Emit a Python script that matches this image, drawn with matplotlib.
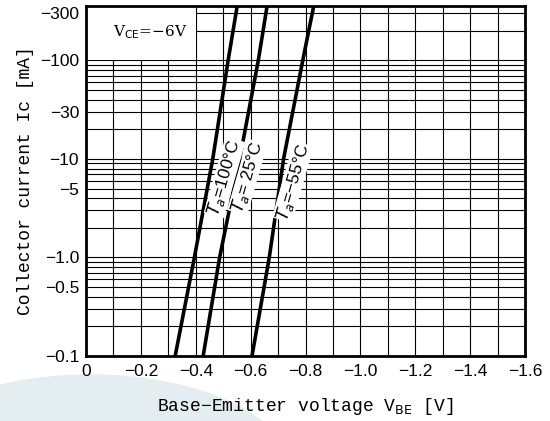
import matplotlib.pyplot as plt
import numpy as np
from matplotlib.patches import Ellipse, Rectangle
from matplotlib.ticker import FixedLocator, LogLocator, NullFormatter

# collector current (positive magnitude, mA) and base-emitter voltage (V)
ic = [0.1, 1, 10, 100, 357]
vbe_100 = [-0.325, -0.395, -0.462, -0.518, -0.551]
vbe_25 = [-0.427, -0.487, -0.560, -0.628, -0.660]
vbe_m55 = [-0.605, -0.668, -0.720, -0.790, -0.830]

curve_labels = ["$T_a$=100°C", "$T_a$= 25°C", "$T_a$=−55°C"]
label_pos = [(-0.505, 6.5), (-0.588, 6.55), (-0.754, 5.85)]

yticks = [0.1, 0.5, 1.0, 5, 10, 30, 100, 300]
ytick_labels = ["−0.1", "−0.5", "−1.0", "−5", "−10", "−30", "−100", "−300"]
xticks = [0, -0.2, -0.4, -0.6, -0.8, -1.0, -1.2, -1.4, -1.6]
xtick_labels = ["0", "−0.2", "−0.4", "−0.6", "−0.8", "−1.0", "−1.2", "−1.4", "−1.6"]

fig = plt.figure(figsize=(5.5, 4.21), dpi=100)

# light decorative swoosh in the lower left
fig.patches.append(Ellipse((90 / 550, (421 - 470) / 421), 400 / 550, 190 / 421,
                           transform=fig.transFigure, color="#e4edef", zorder=-1))

ax = fig.add_axes([86 / 550, 65 / 421, 439 / 550, 350 / 421])
ax.set_zorder(1)
ax.set_facecolor("none")
ax.set_yscale("log")
ax.set_xlim(0, -1.6)
ax.set_ylim(0.1, 357)

ax.xaxis.set_major_locator(FixedLocator(xticks))
ax.set_xticklabels(xtick_labels)
ax.xaxis.set_minor_locator(FixedLocator(np.arange(0, -1.61, -0.1)))
ax.yaxis.set_major_locator(FixedLocator(yticks))
ax.set_yticklabels(ytick_labels)
ax.yaxis.set_minor_locator(LogLocator(base=10, subs=np.arange(1, 10)))
ax.yaxis.set_minor_formatter(NullFormatter())

ax.grid(True, which="both", color="black", lw=0.8)
ax.tick_params(which="both", length=0, labelsize=12.5)
ax.tick_params(axis="x", pad=6)
ax.tick_params(axis="y", pad=5)
for lab in ax.get_xticklabels() + ax.get_yticklabels():
    lab.set_family("Liberation Sans")
for s in ax.spines.values():
    s.set_linewidth(2)

# blank box for the test condition
ax.add_patch(Rectangle((0, 100), -0.4, 400, facecolor="white", edgecolor="none", zorder=2))
ax.text(-0.098, 195, "V$_{\\rm CE}$=−6V", fontsize=11, family="DejaVu Serif",
        va="center", ha="left", zorder=3)

for v in [vbe_100, vbe_25, vbe_m55]:
    ax.plot(v, ic, color="black", lw=2.6, zorder=4, solid_capstyle="butt")

for txt, (x, y) in zip(curve_labels, label_pos):
    ax.text(x, y, txt, rotation=74, fontsize=12.5, ha="center", va="center",
            family="Liberation Sans", zorder=5, rotation_mode="anchor",
            bbox=dict(facecolor="white", edgecolor="none", pad=0.2))

ax.set_xlabel("Base−Emitter voltage V$_{\\rm BE}$ [V]", family="Liberation Mono",
              fontsize=13, labelpad=12)
ax.set_ylabel("Collector current Ic [mA]", family="Liberation Mono",
              fontsize=13, labelpad=4)

fig.savefig("out.png", dpi=100)
